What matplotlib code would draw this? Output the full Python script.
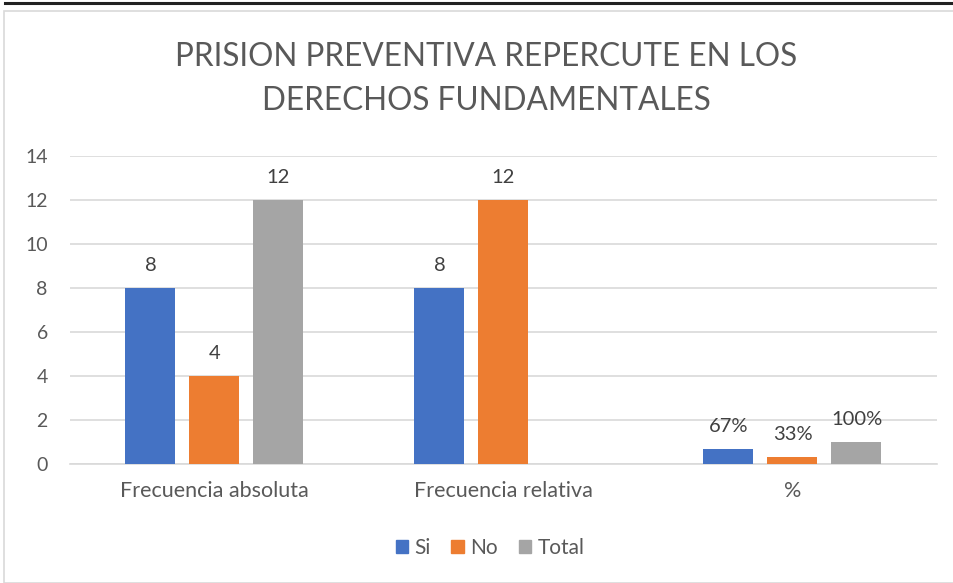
import matplotlib.pyplot as plt
import numpy as np
from matplotlib.patches import Rectangle
from matplotlib.lines import Line2D

categories = ["Frecuencia absoluta", "Frecuencia relativa", "%"]
series_names = ["Si", "No", "Total"]
si_values = [8, 8, 0.67]
no_values = [4, 12, 0.33]
total_values = [12, None, 1.0]
si_labels = ["8", "8", "67%"]
no_labels = ["4", "12", "33%"]
total_labels = ["12", "", "100%"]
colors = ["#4472C4", "#ED7D31", "#A5A5A5"]
yticks = [0, 2, 4, 6, 8, 10, 12, 14]
title = "PRISION PREVENTIVA REPERCUTE EN LOS\nDERECHOS FUNDAMENTALES"

plt.rcParams['font.family'] = ['Lato', 'DejaVu Sans']

fig = plt.figure(figsize=(9.54, 5.83), dpi=100)
W, H = 954, 583

# outer frame and top rule
fig.add_artist(Rectangle((4 / W, 0), 1.2, 1 - 11 / H, transform=fig.transFigure,
                         fill=False, edgecolor="#D9D9D9", linewidth=1.2))
fig.add_artist(Line2D([5 / W, 1], [1 - 2.5 / H, 1 - 2.5 / H], transform=fig.transFigure,
                      color="#222222", linewidth=2.2))

ax = fig.add_axes([70 / W, 1 - 464 / H, 867 / W, 308 / H])

x = np.arange(len(categories))
bar_w = 50 / 289
step = 64 / 289
all_vals = [si_values, no_values, total_values]
all_labels = [si_labels, no_labels, total_labels]
for i, (vals, labs) in enumerate(zip(all_vals, all_labels)):
    offs = (i - 1) * step
    for xi, v, lab in zip(x, vals, labs):
        if v is None:
            continue
        ax.bar(xi + offs, v, width=bar_w, color=colors[i], zorder=3)
        ax.annotate(lab, (xi + offs, v), xytext=(0, 10), textcoords="offset points",
                    ha="center", va="bottom", fontsize=14.5, color="#404040")

ax.set_xlim(-0.5, 2.5)
ax.set_ylim(0, 14)
ax.set_yticks(yticks)
ax.set_yticklabels([str(t) for t in yticks])
ax.set_xticks(x)
ax.set_xticklabels(categories)
ax.grid(axis="y", color="#D9D9D9", linewidth=1.2, zorder=0)
for s in ["top", "right", "left"]:
    ax.spines[s].set_visible(False)
ax.spines["bottom"].set_color("#D9D9D9")
ax.spines["bottom"].set_linewidth(1.2)
ax.tick_params(axis="y", length=0, labelsize=14, colors="#595959", pad=16)
ax.tick_params(axis="x", length=0, labelsize=15.5, colors="#595959", pad=12)

fig.text(486 / W, 1 - 79 / H, title, ha="center", va="center", fontsize=22.7,
         color="#595959", linespacing=1.56)

handles = [Rectangle((0, 0), 1, 1, color=c) for c in colors]
fig.legend(handles, series_names, loc="center", bbox_to_anchor=(490 / W, 1 - 548 / H),
           ncol=3, frameon=False, fontsize=15, handlelength=0.6, handleheight=0.6,
           handletextpad=0.3, columnspacing=1.0, labelcolor="#595959")

fig.savefig("out.png", dpi=100)
